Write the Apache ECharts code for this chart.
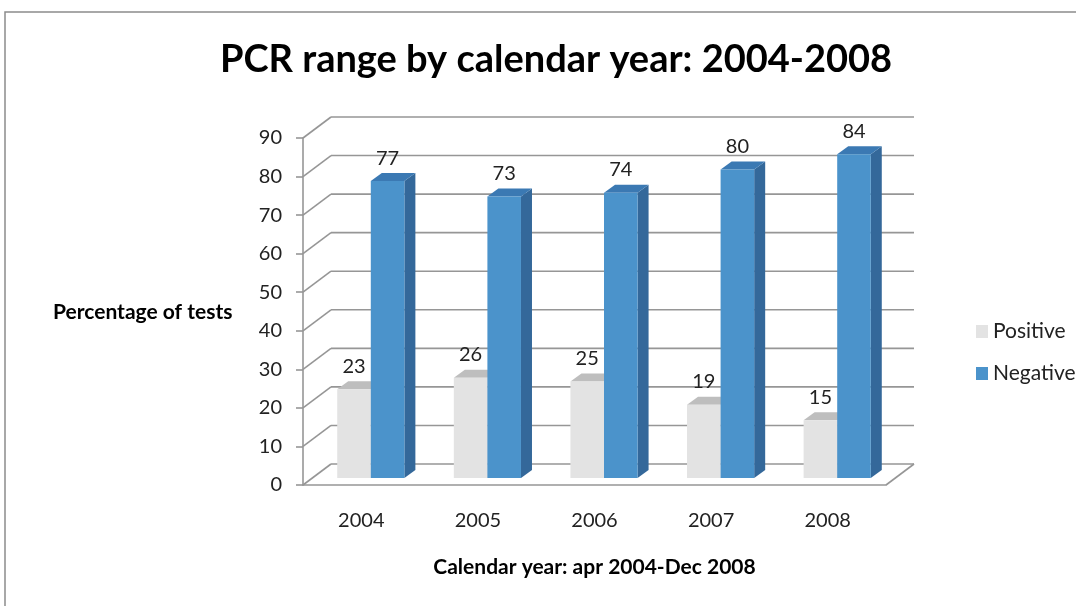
<!DOCTYPE html>
<html>
<head>
<meta charset="utf-8">
<script src="https://cdn.jsdelivr.net/npm/echarts@6/dist/echarts.min.js"></script>
<style>
html,body{margin:0;padding:0;background:#fff;}
#chart{width:1076px;height:606px;}
</style>
</head>
<body>
<div id="chart"></div>
<script>
const categories = ['2004', '2005', '2006', '2007', '2008'];
const positive = [23, 26, 25, 19, 15];
const negative = [77, 73, 74, 80, 84];
const yTicks = [0, 10, 20, 30, 40, 50, 60, 70, 80, 90];

const FONT = 'Lato';
const DX = 28, DY = 21;      // wall depth
const SX = 9.5, SY = 7;      // bar depth shift
const BX = 11, BY = 8;       // bar prism depth
const GRID_COLOR = '#969696';

const chart = echarts.init(document.getElementById('chart'));

function wallItem(params, api) {
  const v = api.value(1);
  const w = api.size([1, 0])[0];
  const p = api.coord([0, v]);
  const q = api.coord([categories.length - 1, v]);
  const left = p[0] - w / 2;
  const right = q[0] + w / 2;
  const y = p[1];
  const style = { stroke: GRID_COLOR, lineWidth: 1.6 };
  const children = [
    { type: 'line', shape: { x1: left, y1: y, x2: left + DX, y2: y - DY }, style },
    { type: 'line', shape: { x1: left + DX, y1: y - DY, x2: right + DX, y2: y - DY }, style }
  ];
  if (v === 0) {
    children.push({ type: 'line', shape: { x1: right, y1: y, x2: right + DX, y2: y - DY }, style });
  }
  return { type: 'group', children };
}

function makeBar(s, front, side, topc) {
  return function (params, api) {
    const i = api.value(0), v = api.value(1);
    const base = api.coord([i, 0]);
    const top = api.coord([i, v]);
    const w = api.size([1, 0])[0];
    const bw = w * 0.288;
    const x0 = base[0] - bw + s * bw + SX;
    const x1 = x0 + bw;
    const yb = base[1] - SY, yt = top[1] - SY;
    return {
      type: 'group',
      children: [
        { type: 'polygon', shape: { points: [[x1, yb], [x1 + BX, yb - BY], [x1 + BX, yt - BY], [x1, yt]] }, style: { fill: side } },
        { type: 'polygon', shape: { points: [[x0, yt], [x0 + BX, yt - BY], [x1 + BX, yt - BY], [x1, yt]] }, style: { fill: topc } },
        { type: 'rect', shape: { x: x0, y: yt, width: bw, height: yb - yt }, style: { fill: front } },
        { type: 'text', x: (x0 + x1) / 2, y: yt - 23, style: { text: String(v), fill: '#222', font: '20px ' + FONT, align: 'center', verticalAlign: 'middle' } }
      ]
    };
  };
}

const option = {
  backgroundColor: '#fff',
  animation: false,
  title: {
    text: 'PCR range by calendar year: 2004-2008',
    left: 551, top: 36, textAlign: 'center',
    textStyle: { fontFamily: FONT, fontWeight: 'bold', fontSize: 38, color: '#000' }
  },
  graphic: [
    { type: 'rect', shape: { x: 5, y: 12, width: 1100, height: 700 }, style: { fill: null, stroke: '#8c8c8c', lineWidth: 1.5 }, silent: true, z: -1 },
    { type: 'text', left: 53, top: 302, style: { text: 'Percentage of tests', fill: '#000', font: 'bold 21px ' + FONT } }
  ],
  legend: {
    data: ['Positive', 'Negative'],
    orient: 'vertical', left: 971, top: 316,
    itemWidth: 12, itemHeight: 13, itemGap: 21,
    icon: 'rect',
    textStyle: { fontFamily: FONT, fontSize: 21, color: '#222' }
  },
  grid: { left: 303, right: 190, top: 138, bottom: 121 },
  xAxis: {
    type: 'category', data: categories,
    axisLine: { lineStyle: { color: GRID_COLOR, width: 1.6 } },
    axisTick: { length: 7, lineStyle: { color: GRID_COLOR, width: 1.6 } },
    axisLabel: { margin: 26, fontFamily: FONT, fontSize: 20, color: '#222' },
    name: 'Calendar year: apr 2004-Dec 2008', nameLocation: 'middle', nameGap: 72,
    nameTextStyle: { fontFamily: FONT, fontWeight: 'bold', fontSize: 21, color: '#000' }
  },
  yAxis: {
    type: 'value', min: 0, max: 90, interval: 10,
    axisLine: { show: true, lineStyle: { color: GRID_COLOR, width: 1.6 } },
    axisTick: { show: true, length: 7, lineStyle: { color: GRID_COLOR, width: 1.6 } },
    axisLabel: { margin: 21, fontFamily: FONT, fontSize: 20, color: '#222', customValues: yTicks },
    splitLine: { show: false }
  },
  series: [
    { type: 'custom', name: 'walls', z: 1, silent: true, renderItem: wallItem, data: yTicks.map(v => [0, v]) },
    { type: 'custom', name: 'Positive', z: 3, itemStyle: { color: '#e3e3e3' }, renderItem: makeBar(0, '#e3e3e3', '#cfcfcf', '#bebebe'), data: positive.map((v, i) => [i, v]) },
    { type: 'custom', name: 'Negative', z: 3, itemStyle: { color: '#4b93cb' }, renderItem: makeBar(1, '#4b93cb', '#34689a', '#3b79b3'), data: negative.map((v, i) => [i, v]) }
  ]
};
chart.setOption(option);
</script>
</body>
</html>
